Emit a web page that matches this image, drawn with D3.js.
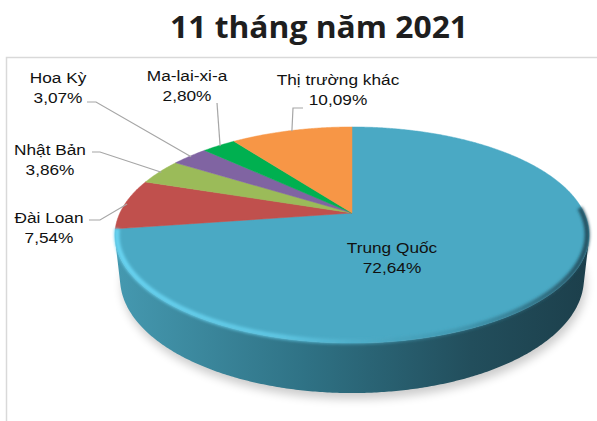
<!DOCTYPE html>
<html>
<head>
<meta charset="utf-8">
<script src="https://cdn.jsdelivr.net/npm/d3@7"></script>
<style>
  body { margin: 0; background: #fff; }
  svg { display: block; }
</style>
</head>
<body>
<svg id="chart" width="597" height="421"></svg>
<script>
// Export market shares, 11 months of 2021
const markets = ["Trung Quốc", "Đài Loan", "Nhật Bản", "Hoa Kỳ", "Ma-lai-xi-a", "Thị trường khác"];
const shares = [72.64, 7.54, 3.86, 3.07, 2.80, 10.09];
const shareLabels = ["72,64%", "7,54%", "3,86%", "3,07%", "2,80%", "10,09%"];
const sliceColors = ["#4aa9c4", "#c0504d", "#9bbb59", "#8064a2", "#00b050", "#f79646"];
const titleText = "11 tháng năm 2021";

// Label placement (centre x, first baseline) and leader-line start points
const labelLayout = [
  { x: 392, y: 253, leader: null },
  { x: 49,  y: 223, leader: [[89, 220], [100, 220]] },
  { x: 50,  y: 155, leader: [[92, 152], [100, 152]] },
  { x: 58,  y: 83,  leader: [[87, 102], [96, 102]] },
  { x: 187, y: 81,  leader: [[217, 103]] },
  { x: 338, y: 85,  leader: [[303, 108], [293, 108]] }
];

const svg = d3.select("#chart");
const defs = svg.append("defs");

// Frame around the plot area
svg.append("rect")
  .attr("x", 6.5).attr("y", 57.5)
  .attr("width", 640).attr("height", 420)
  .attr("fill", "none")
  .attr("stroke", "#d9d9d9")
  .attr("stroke-width", 1.5);

// Title
svg.append("text")
  .attr("x", 319).attr("y", 38)
  .attr("text-anchor", "middle")
  .attr("font-family", "'Open Sans', 'DejaVu Sans', sans-serif")
  .attr("font-weight", 700)
  .attr("font-size", 30)
  .attr("textLength", 298)
  .attr("lengthAdjust", "spacingAndGlyphs")
  .attr("fill", "#1e1e1e")
  .text(titleText);

// --- perspective projection of a tilted disc ---
const view = { cx: 352, cy: 213, f: 1019, dist: 4.39, tilt: 26.5 * Math.PI / 180, depth: 0.21 };
const sT = Math.sin(view.tilt), cT = Math.cos(view.tilt);
function project(angle, r, h) {
  const x = r * Math.sin(angle), y = r * Math.cos(angle);
  const z = view.dist + y * cT - h * sT;
  return [view.cx + view.f * x / z, view.cy + view.f * (-y * sT - h * cT) / z];
}
function arcPoints(a0, a1, r, h) {
  const n = Math.max(2, Math.ceil(Math.abs(a1 - a0) / (0.5 * Math.PI / 180)));
  return d3.range(n + 1).map(i => project(a0 + (a1 - a0) * i / n, r, h));
}
const line = d3.line();

const pie = d3.pie().sort(null).value(d => d);
const arcs = pie(shares);

// Soft shadow under the disc
const shadowBlur = defs.append("filter").attr("id", "shadowBlur")
  .attr("x", "-20%").attr("y", "-20%").attr("width", "140%").attr("height", "140%");
shadowBlur.append("feGaussianBlur").attr("stdDeviation", 5);
svg.append("path")
  .attr("d", line(arcPoints(0, 2 * Math.PI, 1.0, -view.depth)) + "Z")
  .attr("transform", "translate(2,6)")
  .attr("fill", "#000")
  .attr("opacity", 0.2)
  .attr("filter", "url(#shadowBlur)");

// Outer wall: only the part facing the camera is visible
const limit = Math.acos(-1 / (view.dist * cT));
const wallGrad = defs.append("linearGradient").attr("id", "wallGrad")
  .attr("gradientUnits", "userSpaceOnUse")
  .attr("x1", 115).attr("x2", 590).attr("y1", 0).attr("y2", 0);
wallGrad.append("stop").attr("offset", 0).attr("stop-color", "#4599b0");
wallGrad.append("stop").attr("offset", 0.4).attr("stop-color", "#2f7285");
wallGrad.append("stop").attr("offset", 0.75).attr("stop-color", "#224e5c");
wallGrad.append("stop").attr("offset", 1).attr("stop-color", "#1c3f4b");

arcs.forEach((d, i) => {
  const a0 = Math.max(d.startAngle, limit), a1 = Math.min(d.endAngle, 2 * Math.PI - limit);
  if (a1 <= a0) return;
  const pts = arcPoints(a0, a1, 1, 0).concat(arcPoints(a1, a0, 1, -view.depth));
  svg.append("path")
    .attr("d", line(pts) + "Z")
    .attr("fill", i === 0 ? "url(#wallGrad)" : d3.color(sliceColors[i]).darker(1));
});

// Top faces
svg.append("g").selectAll("path")
  .data(arcs)
  .join("path")
  .attr("d", d => line([project(0, 0, 0)].concat(arcPoints(d.startAngle, d.endAngle, 1, 0))) + "Z")
  .attr("fill", (d, i) => sliceColors[i])
  .attr("stroke", (d, i) => sliceColors[i])
  .attr("stroke-width", 0.5);

// Rounded rim highlight along the front edge
const rimGrad = defs.append("linearGradient").attr("id", "rimGrad")
  .attr("gradientUnits", "userSpaceOnUse")
  .attr("x1", 115).attr("x2", 590).attr("y1", 0).attr("y2", 0);
rimGrad.append("stop").attr("offset", 0).attr("stop-color", "#6ad6f4").attr("stop-opacity", 0.95);
rimGrad.append("stop").attr("offset", 0.35).attr("stop-color", "#63cdea").attr("stop-opacity", 0.8);
rimGrad.append("stop").attr("offset", 0.7).attr("stop-color", "#3b8ea6").attr("stop-opacity", 0.5);
rimGrad.append("stop").attr("offset", 1).attr("stop-color", "#1e4452").attr("stop-opacity", 0.9);
const rimBlur = defs.append("filter").attr("id", "rimBlur")
  .attr("x", "-10%").attr("y", "-10%").attr("width", "120%").attr("height", "120%");
rimBlur.append("feGaussianBlur").attr("stdDeviation", 1.6);
svg.append("path")
  .attr("d", line(arcPoints(Math.PI / 2 - 0.05, arcs[0].endAngle, 0.992, 0)))
  .attr("fill", "none")
  .attr("stroke", "url(#rimGrad)")
  .attr("stroke-width", 5)
  .attr("filter", "url(#rimBlur)");

// Leader lines
const leaders = svg.append("g")
  .attr("fill", "none")
  .attr("stroke", "#a6a6a6")
  .attr("stroke-width", 1.2);
arcs.forEach((d, i) => {
  const lay = labelLayout[i];
  if (!lay.leader) return;
  const mid = (d.startAngle + d.endAngle) / 2;
  leaders.append("path").attr("d", line(lay.leader.concat([project(mid, 0.99, 0)])));
});

// Category labels
const labels = svg.append("g")
  .attr("font-family", "'Liberation Sans', Arial, sans-serif")
  .attr("font-size", 15)
  .attr("fill", "#111")
  .attr("text-anchor", "middle");
markets.forEach((m, i) => {
  const lay = labelLayout[i];
  const t = labels.append("text")
    .attr("transform", `translate(${lay.x},${lay.y}) scale(1.15,1)`);
  t.append("tspan").attr("x", 0).attr("y", 0).text(m);
  t.append("tspan").attr("x", 0).attr("y", 20).text(shareLabels[i]);
});
</script>
</body>
</html>
